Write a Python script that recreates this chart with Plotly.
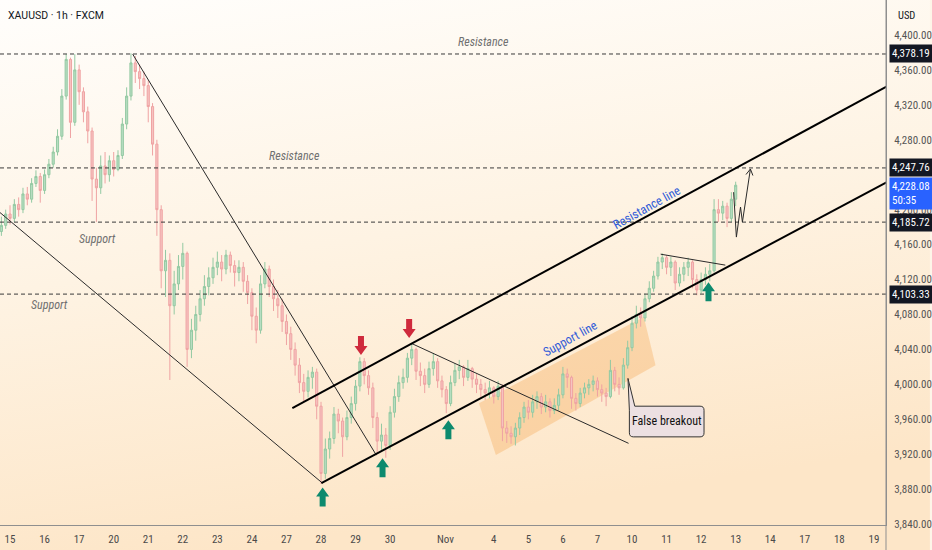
import base64
import plotly.graph_objects as go

# ---------------- data ----------------
day_labels = ["15", "16", "17", "20", "21", "22", "23", "24", "27", "28", "29", "30",
              "Nov", "4", "5", "6", "7", "10", "11", "12", "13", "14", "17", "18", "19"]
day_index = [0, 1, 2, 3, 4, 5, 6, 7, 8, 9, 10, 11,
             12.6, 14, 15, 16, 17, 18, 19, 20, 21, 22, 23, 24, 25]

bars_per_day = 8          # 3-hour candles, index measured in trading days
first_bar = -0.25
first_open = 4175

close = [4182, 4195, 4190, 4206, 4200, 4218, 4212, 4230, 4238, 4222,
         4240, 4252, 4266, 4284, 4330, 4372, 4300, 4360, 4335, 4312,
         4290, 4235, 4225, 4250, 4240, 4256, 4246, 4262, 4298, 4330,
         4368, 4358, 4350, 4342, 4318, 4275, 4200, 4130, 4142, 4090,
         4115, 4135, 4150, 4040, 4062, 4080, 4098, 4112, 4122, 4134,
         4140, 4132, 4148, 4136, 4128, 4134, 4118, 4105, 4078, 4062,
         4115, 4132, 4112, 4098, 4090, 4072, 4058, 4040, 4022, 4002,
         3992, 4008, 4014, 3975, 3898, 3926, 3938, 3966, 3958, 3940,
         3962, 3978, 3998, 4026, 4010, 3996, 3962, 3935, 3942, 3930,
         3968, 3986, 4002, 4008, 4030, 4040, 4015, 4010, 4000, 4018,
         4026, 4004, 3994, 3978, 4002, 4016, 4020, 4008, 4018, 4006,
         4000, 3994, 3990, 3996, 3986, 3998, 3950, 3944, 3940, 3950,
         3962, 3974, 3968, 3980, 3986, 3974, 3980, 3970, 3976, 3988,
         4012, 4008, 3984, 3978, 3990, 3996, 4000, 4004, 3994, 3990,
         3986, 4016, 4000, 3996, 4022, 4042, 4070, 4080, 4076, 4098,
         4110, 4124, 4140, 4145, 4134, 4140, 4116, 4126, 4134, 4140,
         4120, 4108, 4120, 4126, 4130, 4200, 4196, 4204, 4190, 4212,
         4228]
high = [4192, 4200, 4205, 4212, 4214, 4225, 4226, 4236, 4245, 4242,
        4246, 4258, 4272, 4292, 4338, 4378, 4374, 4378, 4366, 4340,
        4318, 4294, 4248, 4262, 4266, 4262, 4266, 4268, 4305, 4340,
        4379, 4376, 4366, 4358, 4348, 4322, 4280, 4205, 4154, 4150,
        4130, 4148, 4162, 4152, 4075, 4090, 4108, 4125, 4134, 4145,
        4152, 4148, 4154, 4152, 4142, 4142, 4140, 4125, 4110, 4088,
        4125, 4140, 4136, 4120, 4108, 4098, 4080, 4066, 4048, 4030,
        4012, 4016, 4020, 4018, 3980, 3938, 3946, 3974, 3972, 3962,
        3970, 3986, 4005, 4031, 4030, 4016, 4002, 3968, 3955, 3950,
        3975, 3995, 4010, 4018, 4036, 4047, 4042, 4025, 4018, 4026,
        4036, 4030, 4010, 3998, 4010, 4024, 4028, 4022, 4028, 4020,
        4012, 4006, 4002, 4004, 3998, 4004, 4000, 3958, 3952, 3956,
        3968, 3980, 3982, 3988, 3992, 3990, 3988, 3984, 3984, 3995,
        4020, 4018, 4010, 3990, 3996, 4002, 4006, 4010, 4008, 4000,
        3996, 4028, 4020, 4008, 4030, 4050, 4078, 4090, 4088, 4104,
        4118, 4130, 4146, 4150, 4148, 4146, 4142, 4134, 4140, 4145,
        4142, 4126, 4128, 4134, 4138, 4212, 4212, 4210, 4208, 4220,
        4232]
low = [4170, 4178, 4183, 4186, 4192, 4196, 4205, 4208, 4226, 4208,
       4218, 4236, 4248, 4262, 4280, 4326, 4282, 4296, 4320, 4300,
       4276, 4210, 4186, 4218, 4230, 4232, 4238, 4244, 4258, 4292,
       4325, 4345, 4338, 4330, 4300, 4262, 4170, 4110, 4100, 4005,
       4080, 4108, 4120, 4020, 4030, 4050, 4072, 4090, 4102, 4115,
       4125, 4118, 4126, 4128, 4112, 4118, 4106, 4092, 4062, 4047,
       4058, 4110, 4100, 4084, 4076, 4060, 4045, 4028, 4010, 3990,
       3980, 3985, 3995, 3960, 3886, 3892, 3915, 3932, 3944, 3917,
       3936, 3955, 3970, 3992, 4000, 3988, 3950, 3921, 3925, 3916,
       3925, 3962, 3980, 3995, 4002, 4022, 4005, 3998, 3990, 3996,
       4010, 3996, 3985, 3967, 3975, 3998, 4006, 3998, 4004, 3996,
       3990, 3985, 3982, 3984, 3978, 3982, 3935, 3933, 3932, 3930,
       3942, 3956, 3960, 3962, 3972, 3966, 3968, 3962, 3966, 3970,
       3984, 3996, 3972, 3970, 3974, 3984, 3988, 3992, 3986, 3980,
       3975, 3984, 3992, 3988, 3994, 4018, 4038, 4064, 4066, 4072,
       4094, 4106, 4120, 4132, 4126, 4124, 4108, 4112, 4118, 4124,
       4110, 4102, 4104, 4114, 4118, 4128, 4186, 4188, 4180, 4186,
       4204]

levels = [4378.19, 4247.76, 4185.72, 4103.33]
last_price = 4228.08
countdown = "50:35"
price_ticks = [3840, 3880, 3920, 3960, 4000, 4040, 4080, 4120, 4160, 4200,
               4280, 4320, 4360, 4400]

# drawings (day index, price)
thin_lines = [((3.55, 4378.0), (10.60, 3919.0)),
              ((-0.30, 4197.0), (9.04, 3887.0)),
              ((11.61, 4047.0), (17.90, 3932.5)),
              ((18.83, 4149.0), (20.70, 4136.5))]
channel_lines = [((9.01, 3887.0), (25.40, 4232.0)),
                 ((8.17, 3972.7), (25.40, 4341.6))]
zone = [(13.57, 3978.5), (18.34, 4077.0), (18.68, 4022.0), (14.06, 3919.0)]
projection = [(20.94, 4220.0), (21.02, 4168.6), (21.14, 4203.0), (21.195, 4185.8), (21.426, 4246.5)]
up_arrows = [(9.047, 3882.0), (10.78, 3915.5), (12.686, 3959.0), (20.213, 4117.0)]
down_arrows = [(10.156, 4033.5), (11.55, 4053.0)]
text_notes = [("Resistance", 13.69, 4392.0), ("Resistance", 8.23, 4261.5),
              ("Support", 2.54, 4166.0), ("Support", 1.155, 4090.5)]
blue_notes = [("Resistance line", 18.41, 4203.0), ("Support line", 16.20, 4053.0)]
callout_text = ("False breakout", 19.0, 3957.5)

# ---------------- figure ----------------
x = [first_bar + i / bars_per_day for i in range(len(close))]
opens = [first_open] + close[:-1]

NARROW = "Liberation Sans Narrow, Roboto Condensed, DejaVu Sans Condensed, Roboto, sans-serif"

fig = go.Figure()
fig.add_trace(go.Candlestick(
    x=x, open=opens, high=high, low=low, close=close,
    increasing=dict(line=dict(color="#93c9a2", width=1), fillcolor="#b7ddc2"),
    decreasing=dict(line=dict(color="#efa3a3", width=1), fillcolor="#f6c3c1"),
    whiskerwidth=0, hoverinfo="skip", showlegend=False,
))

shapes = []
for lv in levels:
    shapes.append(dict(type="line", xref="paper", x0=0, x1=1, yref="y", y0=lv, y1=lv,
                       line=dict(color="#3a3a3a", width=1, dash="4px,3px"), layer="above"))
for (a, b) in thin_lines:
    shapes.append(dict(type="line", xref="x", yref="y", x0=a[0], y0=a[1], x1=b[0], y1=b[1],
                       line=dict(color="#2a2a2a", width=1), layer="above"))
for (a, b) in channel_lines:
    shapes.append(dict(type="line", xref="x", yref="y", x0=a[0], y0=a[1], x1=b[0], y1=b[1],
                       line=dict(color="#000000", width=2), layer="above"))
zp = "M " + " L ".join(f"{px},{py}" for px, py in zone) + " Z"
shapes.append(dict(type="path", xref="x", yref="y", path=zp,
                   fillcolor="rgba(247,163,76,0.33)", line=dict(width=0), layer="below"))
pp = "M " + " L ".join(f"{px},{py}" for px, py in projection[:-1])
shapes.append(dict(type="path", xref="x", yref="y", path=pp,
                   line=dict(color="#2a2a2a", width=1), layer="above"))
tip = projection[-1]
prev = projection[-2]
shapes.append(dict(type="line", xref="x", yref="y", x0=prev[0], y0=prev[1], x1=tip[0], y1=tip[1],
                   line=dict(color="#2a2a2a", width=1), layer="above"))
shapes.append(dict(type="path", xref="x", yref="y", xsizemode="pixel", ysizemode="pixel",
                   xanchor=tip[0], yanchor=tip[1], path="M -4.4,-5.5 L 0,0 L 2.5,-6.5",
                   line=dict(color="#2a2a2a", width=1), layer="above"))
cx0, cx1, ctop, cbot = 17.924, 20.084, 3975.0, 3939.9
rx, ry = 0.115, 4.6
callout = (f"M 18.08,{ctop} L {cx1-rx},{ctop} Q {cx1},{ctop} {cx1},{ctop-ry} "
           f"L {cx1},{cbot+ry} Q {cx1},{cbot} {cx1-rx},{cbot} L {cx0+rx},{cbot} "
           f"Q {cx0},{cbot} {cx0},{cbot+ry} L {cx0},{ctop-ry} L 17.883,4006.8 Z")
shapes.append(dict(type="path", xref="x", yref="y", path=callout, fillcolor="#ece0e2",
                   line=dict(color="#333333", width=1), layer="above"))
up_path = "M 0,0 L 6.5,-9 L 3,-9 L 3,-19 L -3,-19 L -3,-9 L -6.5,-9 Z"
down_path = "M 0,0 L 6.5,9 L 3,9 L 3,19 L -3,19 L -3,9 L -6.5,9 Z"
for ax_, ay_ in up_arrows:
    shapes.append(dict(type="path", xref="x", yref="y", xsizemode="pixel", ysizemode="pixel",
                       xanchor=ax_, yanchor=ay_, path=up_path, fillcolor="#0d8a6e",
                       line=dict(width=0), layer="above"))
for ax_, ay_ in down_arrows:
    shapes.append(dict(type="path", xref="x", yref="y", xsizemode="pixel", ysizemode="pixel",
                       xanchor=ax_, yanchor=ay_, path=down_path, fillcolor="#cf2a3c",
                       line=dict(width=0), layer="above"))
shapes.append(dict(type="line", xref="paper", yref="paper", x0=1, x1=1, y0=-0.06, y1=1,
                   line=dict(color="#8f8f8f", width=1), layer="above"))

ann = []
ann.append(dict(xref="paper", yref="paper", x=0, y=1, xshift=6, yshift=-15, xanchor="left",
                yanchor="middle", text="XAUUSD · 1h · FXCM", showarrow=False,
                font=dict(family="Roboto, sans-serif", size=10.5, color="#131722")))
ann.append(dict(xref="paper", yref="paper", x=1, y=1, xshift=10, yshift=-15, xanchor="left",
                yanchor="middle", text="USD", showarrow=False,
                font=dict(family=NARROW, size=10.5, color="#131722")))
for t, tx, ty in text_notes:
    ann.append(dict(x=tx, y=ty, text=f"<i>{t}</i>", showarrow=False,
                    font=dict(family=NARROW, size=12, color="#707070")))
for t, tx, ty in blue_notes:
    ann.append(dict(x=tx, y=ty, text=t, showarrow=False, textangle=-29,
                    font=dict(family=NARROW, size=12.5, color="#2f5bd8")))
ann.append(dict(x=callout_text[1], y=callout_text[2], text=callout_text[0], showarrow=False,
                font=dict(family=NARROW, size=12, color="#111111")))
for lv in levels:
    ann.append(dict(xref="paper", x=1, xanchor="left", xshift=3, yref="y", y=lv,
                    yanchor="middle", text=f"{lv:,.2f}", showarrow=False, bgcolor="#131722",
                    borderpad=2, font=dict(family=NARROW, size=11, color="#ffffff")))
ann.append(dict(xref="paper", x=1, xanchor="left", xshift=3, yref="y", y=last_price,
                yanchor="top", yshift=8, text=f"{last_price:,.2f}<br>{countdown}", align="left",
                showarrow=False, bgcolor="#2962ff", borderpad=2,
                font=dict(family=NARROW, size=11, color="#ffffff")))

svg = ("<svg xmlns='http://www.w3.org/2000/svg' width='932' height='550'><defs>"
       "<linearGradient id='g' x1='0' y1='0' x2='0.25' y2='1'>"
       "<stop offset='0' stop-color='#fffefc'/><stop offset='0.5' stop-color='#fef3e3'/>"
       "<stop offset='1' stop-color='#fde6c8'/></linearGradient></defs>"
       "<rect width='932' height='550' fill='url(#g)'/></svg>")
bg_src = "data:image/svg+xml;base64," + base64.b64encode(svg.encode()).decode()

fig.update_layout(
    width=932, height=550,
    margin=dict(l=0, r=44, t=0, b=25),
    paper_bgcolor="#fef5e8", plot_bgcolor="rgba(0,0,0,0)",
    shapes=shapes, annotations=ann,
    images=[dict(source=bg_src, xref="paper", yref="paper", x=0, y=1,
                 sizex=932 / 888, sizey=550 / 525, sizing="stretch", layer="below",
                 xanchor="left", yanchor="top")],
    xaxis=dict(range=[-0.29, 25.35], tickmode="array", tickvals=day_index, ticktext=day_labels,
               showgrid=False, zeroline=False, showline=True, linecolor="#8f8f8f", linewidth=1,
               ticks="", ticklabelstandoff=4, rangeslider=dict(visible=False),
               tickfont=dict(family=NARROW, size=11, color="#4a4a4a")),
    yaxis=dict(range=[3839, 4440], side="right", tickmode="array", tickvals=price_ticks,
               ticktext=[f"{v:,.2f}" for v in price_ticks], showgrid=False, zeroline=False,
               showline=True, linecolor="#8f8f8f", linewidth=1, ticks="", ticklabelstandoff=5,
               tickfont=dict(family=NARROW, size=11, color="#555555")),
    showlegend=False, hovermode=False,
)

fig.write_html("out.html", config={"displayModeBar": False},
               post_script="document.body.style.margin='0';document.body.style.overflow='hidden';")
